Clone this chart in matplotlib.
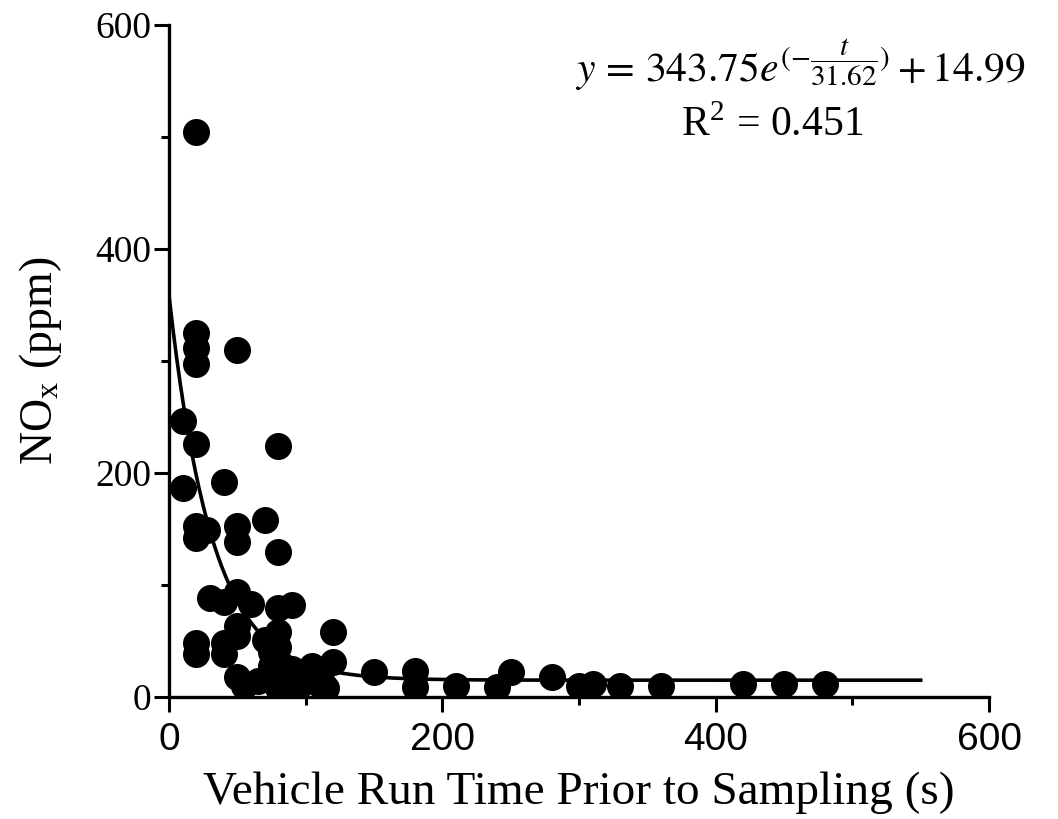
import numpy as np
import matplotlib
matplotlib.use("Agg")
import matplotlib.pyplot as plt
from matplotlib.ticker import MultipleLocator

# run time (s) and NOx (ppm)
run_time = [20, 20, 20, 20, 50, 10, 20, 80, 10, 40,
            20, 20, 28, 50, 50, 70, 80, 30, 40, 50,
            60, 80, 90, 120, 120, 20, 20, 40, 40, 50,
            50, 50, 55, 65, 70, 75, 75, 75, 80, 80,
            80, 80, 80, 85, 90, 95, 100, 105, 110, 115,
            113, 150, 180, 180, 210, 240, 250, 280, 300, 310,
            330, 360, 420, 450, 480]
nox = [504, 325, 312, 297, 310, 246, 226, 224, 187, 192,
       153, 142, 149, 153, 138, 158, 129, 88, 85, 94,
       83, 79, 82, 58, 31, 48, 38, 48, 38, 63,
       54, 18, 10, 14, 51, 40, 28, 18, 58, 45,
       32, 20, 8, 12, 25, 10, 18, 28, 12, 8,
       12, 22, 23, 9, 10, 9, 22, 18, 10, 12,
       10, 10, 12, 12, 12]

# exponential fit from the figure annotation
fit_a = 343.75
fit_tau = 31.62
fit_c = 14.99
fit_t = np.linspace(0, 550, 400)
fit_y = fit_a * np.exp(-fit_t / fit_tau) + fit_c

serif = ["Liberation Serif", "DejaVu Serif"]
sans = ["Liberation Sans", "DejaVu Sans"]
plt.rcParams["mathtext.fontset"] = "stix"

fig = plt.figure(figsize=(10.58, 8.19), dpi=100)
ax = fig.add_axes([0.1597, 0.149, 0.7751, 0.8205])

ax.scatter(run_time, nox, s=340, color="black", zorder=3)
ax.plot(fit_t, fit_y, color="black", lw=2.6, zorder=2)

ax.set_xlim(0, 600)
ax.set_ylim(0, 600)
ax.xaxis.set_major_locator(MultipleLocator(200))
ax.xaxis.set_minor_locator(MultipleLocator(100))
ax.yaxis.set_major_locator(MultipleLocator(200))
ax.yaxis.set_minor_locator(MultipleLocator(100))

for side in ["top", "right"]:
    ax.spines[side].set_visible(False)
for side in ["left", "bottom"]:
    ax.spines[side].set_linewidth(2.4)

ax.tick_params(which="major", direction="out", length=11, width=2.2)
ax.tick_params(which="minor", direction="out", length=6, width=2.2)
ax.tick_params(axis="x", pad=7)
ax.tick_params(axis="y", pad=2)

for lab in ax.get_xticklabels():
    lab.set_fontfamily(sans)
    lab.set_fontsize(28)
for lab in ax.get_yticklabels():
    lab.set_fontfamily(serif)
    lab.set_fontsize(27)

ax.set_xlabel("Vehicle Run Time Prior to Sampling (s)", family=serif,
              fontsize=34, labelpad=10)
ax.set_ylabel(r"NO$_\mathregular{x}$ (ppm)", family=serif,
              fontsize=33, labelpad=22)

ax.text(1.045, 0.94, r"$y\,=\,343.75e^{(-\dfrac{t}{31.62})}+14.99$",
        transform=ax.transAxes, ha="right", va="center", fontsize=30)
ax.text(0.735, 0.85, r"R$^\mathregular{2}$ = 0.451", family=serif,
        transform=ax.transAxes, ha="center", va="center", fontsize=30)

fig.savefig("out.png", dpi=100)
